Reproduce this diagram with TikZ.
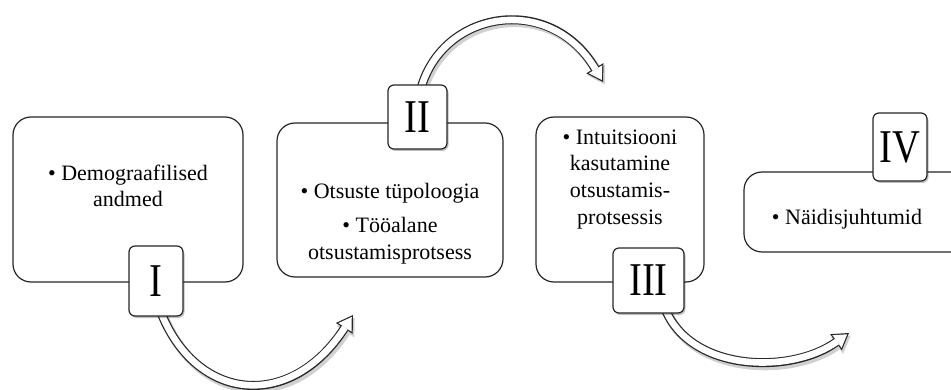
\documentclass[tikz,border=0pt]{standalone}
\usepackage{fontspec}
\usepackage{graphicx}
\setmainfont{Liberation Serif}
\usetikzlibrary{arrows.meta,shadows}
\newcommand\blockarrow[4]{%
  \draw[arrshadow] #1 .. controls #2 and #3 .. #4;
  \draw[arrouter] #1 .. controls #2 and #3 .. #4;
  \draw[arrinner] #1 .. controls #2 and #3 .. #4;
}
\begin{document}
\begin{tikzpicture}[x=1pt,y=-1pt,
  bigbox/.style={draw=black!85, line width=1.2pt, rounded corners=18pt, fill=white, inner sep=0pt},
  numbox/.style={draw=black!85, line width=1.2pt, rounded corners=6pt, fill=white, inner sep=0pt,
    font=\fontsize{47}{47}\selectfont,
    drop shadow={shadow xshift=1.5pt, shadow yshift=-2pt, fill=black, opacity=0.25}},
  bodytext/.style={inner sep=0pt, align=center, font=\fontsize{22}{26.7}\selectfont, anchor=north},
  arrshadow/.style={line width=10pt, black!18, -{Triangle[length=17pt,width=21pt,line width=0pt]},
    transform canvas={shift={(1.8pt,-2.5pt)}}},
  arrouter/.style={line width=9pt, black!85, -{Triangle[length=16pt,width=20pt,line width=0pt]}},
  arrinner/.style={line width=6.6pt, white, shorten >=2.26pt, -{Triangle[length=12.5pt,width=15.7pt,line width=0pt]}}
]
\useasboundingbox (0,0) rectangle (951,390);

% big boxes
\node[bigbox, minimum width=230pt, minimum height=165pt] (b1) at (128,199.5) {};
\node[bigbox, minimum width=226pt, minimum height=154pt] (b2) at (390,200) {};
\node[bigbox, minimum width=168pt, minimum height=165pt] (b3) at (620,199.5) {};
\node[bigbox, minimum width=236pt, minimum height=80pt] (b4) at (862,212) {};

% texts
\node[bodytext] (t1) at (128,164.5) {\textbullet\ Demograafilised\\andmed};
\node[bodytext] (t2) at (390,183.5) {\textbullet\ Otsuste tüpoloogia\\[7pt]\textbullet\ Tööalane\\otsustamisprotsess};
\node[bodytext] (t3) at (620,129.5) {\textbullet\ Intuitsiooni\\kasutamine\\otsustamis-\\protsessis};
\node[bodytext] (t4) at (847,209.5) {\textbullet\ Näidisjuhtumid};

% end points of arrows
\coordinate (a1e) at (353,315);
\coordinate (a2e) at (603,82);
\coordinate (a3e) at (849,333);

% label box centres
\path (156,281) coordinate (n1c) (417.5,117) coordinate (n2c) (648.5,280.5) coordinate (n3c) (900,147) coordinate (n4c);

% arrows
\blockarrow{(160,310)}{(195,402)}{(290,412)}{(a1e)}
\blockarrow{(420,92)}{(440,10)}{(550,-8)}{(a2e)}
\blockarrow{(664,306)}{(688,372)}{(790,375)}{(a3e)}

% label boxes
\node[numbox, minimum width=54pt, minimum height=70pt] (n1) at (n1c) {\scalebox{0.82}[1]{I}};
\node[numbox, minimum width=59pt, minimum height=64pt] (n2) at (n2c) {\scalebox{0.82}[1]{II}};
\node[numbox, minimum width=71pt, minimum height=65pt] (n3) at (n3c) {\scalebox{0.82}[1]{III}};
\node[numbox, minimum width=54pt, minimum height=68pt] (n4) at (n4c) {\scalebox{0.82}[1]{IV}};
\end{tikzpicture}
\end{document}
